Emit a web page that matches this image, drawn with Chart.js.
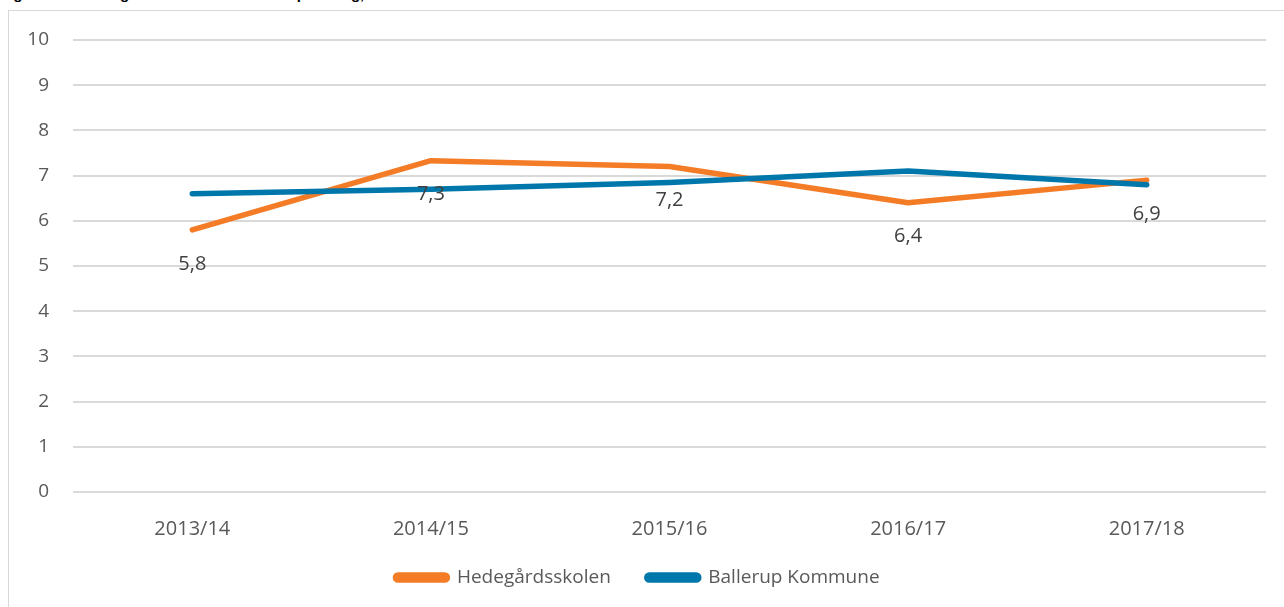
<!DOCTYPE html>
<html>
<head>
<meta charset="utf-8">
<script src="https://cdn.jsdelivr.net/npm/chart.js@4/dist/chart.umd.min.js"></script>
<style>
  html, body { margin: 0; padding: 0; background: #fff; overflow: hidden; }
  #title {
    position: absolute; left: 0; top: -15px; line-height: 20px; height: 20px; overflow: hidden;
    font: bold 15px "Liberation Sans", Arial, sans-serif; color: #000; white-space: nowrap;
  }
  #box {
    position: absolute; left: 8px; top: 10px; width: 1290px; height: 610px;
    border: 1px solid #d9d9d9; box-sizing: border-box;
  }
  #chart { position: absolute; left: 0; top: 0; }
</style>
</head>
<body>
<div id="title">Figur 2: Karaktergennemsnit i de bundne prøvefag, 2013/14 - 2017/18</div>
<div id="box"><canvas id="chart" width="1276" height="597"></canvas></div>
<script>
// skoleår
const years = ["2013/14", "2014/15", "2015/16", "2016/17", "2017/18"];
// karaktergennemsnit
const skolen = [5.8, 7.33, 7.2, 6.4, 6.9];
const kommune = [6.6, 6.7, 6.85, 7.1, 6.8];
const yTicks = [0, 1, 2, 3, 4, 5, 6, 7, 8, 9, 10];

const ORANGE = '#F47C26';
const BLUE = '#0077AB';
const FONT = '"Open Sans", "Liberation Sans", sans-serif';

// tal under punkterne for skolen (dansk komma)
const valueLabels = {
  id: 'valueLabels',
  afterDatasetsDraw(chart) {
    const ctx = chart.ctx;
    const meta = chart.getDatasetMeta(0);
    ctx.save();
    ctx.font = '20px ' + FONT;
    ctx.fillStyle = '#404040';
    ctx.textAlign = 'center';
    ctx.textBaseline = 'middle';
    meta.data.forEach((pt, i) => {
      ctx.fillText(skolen[i].toFixed(1).replace('.', ','), pt.x, pt.y + 34);
    });
    ctx.restore();
  }
};

// fast højde på forklaringen, og x-etiketter må gå ud over aksens kasse
const layoutFix = {
  id: 'layoutFix',
  beforeLayout(chart) {
    const lg = chart.legend;
    if (lg && !lg._fixed) {
      const fit = lg.fit;
      lg.fit = function () { fit.call(this); this.height = 76; };
      lg._fixed = true;
    }
  },
  beforeDraw(chart) {
    chart.scales.x._computeLabelArea = () => null;
  }
};

new Chart(document.getElementById('chart').getContext('2d'), {
  type: 'line',
  data: {
    labels: years,
    datasets: [
      {
        label: 'Hedegårdsskolen',
        data: skolen,
        borderColor: ORANGE,
        backgroundColor: ORANGE,
        borderWidth: 5.5,
        pointRadius: 0,
        borderCapStyle: 'round',
        borderJoinStyle: 'round',
        tension: 0,
        order: 1
      },
      {
        label: 'Ballerup Kommune',
        data: kommune,
        borderColor: BLUE,
        backgroundColor: BLUE,
        borderWidth: 5.5,
        pointRadius: 0,
        borderCapStyle: 'round',
        borderJoinStyle: 'round',
        tension: 0,
        order: 0
      }
    ]
  },
  options: {
    responsive: false,
    animation: false,
    layout: { padding: { top: 29, right: 19, bottom: 0, left: 0 } },
    plugins: {
      tooltip: { enabled: false },
      legend: {
        position: 'bottom',
        labels: {
          sort: (a, b) => a.datasetIndex - b.datasetIndex,
          boxWidth: 52,
          boxHeight: 5,
          useBorderRadius: true,
          borderRadius: 2.5,
          padding: 36,
          color: '#595959',
          font: { family: FONT, size: 19 }
        }
      }
    },
    scales: {
      x: {
        offset: true,
        afterFit(scale) { scale.height = 40; scale.paddingLeft = 0; scale.paddingRight = 0; },
        grid: { display: false },
        border: { display: false },
        ticks: {
          color: '#595959',
          padding: 17,
          font: { family: FONT, size: 20 }
        }
      },
      y: {
        min: 0,
        max: 10,
        afterFit(scale) { scale.width = 64; scale.paddingTop = 0; scale.paddingBottom = 0; },
        afterBuildTicks(scale) { scale.ticks = yTicks.map(v => ({ value: v })); },
        grid: { color: '#d9d9d9', lineWidth: 2, drawTicks: false },
        border: { display: false },
        ticks: {
          color: '#595959',
          padding: 24,
          font: { family: FONT, size: 19 }
        }
      }
    }
  },
  plugins: [valueLabels, layoutFix]
});
</script>
</body>
</html>
